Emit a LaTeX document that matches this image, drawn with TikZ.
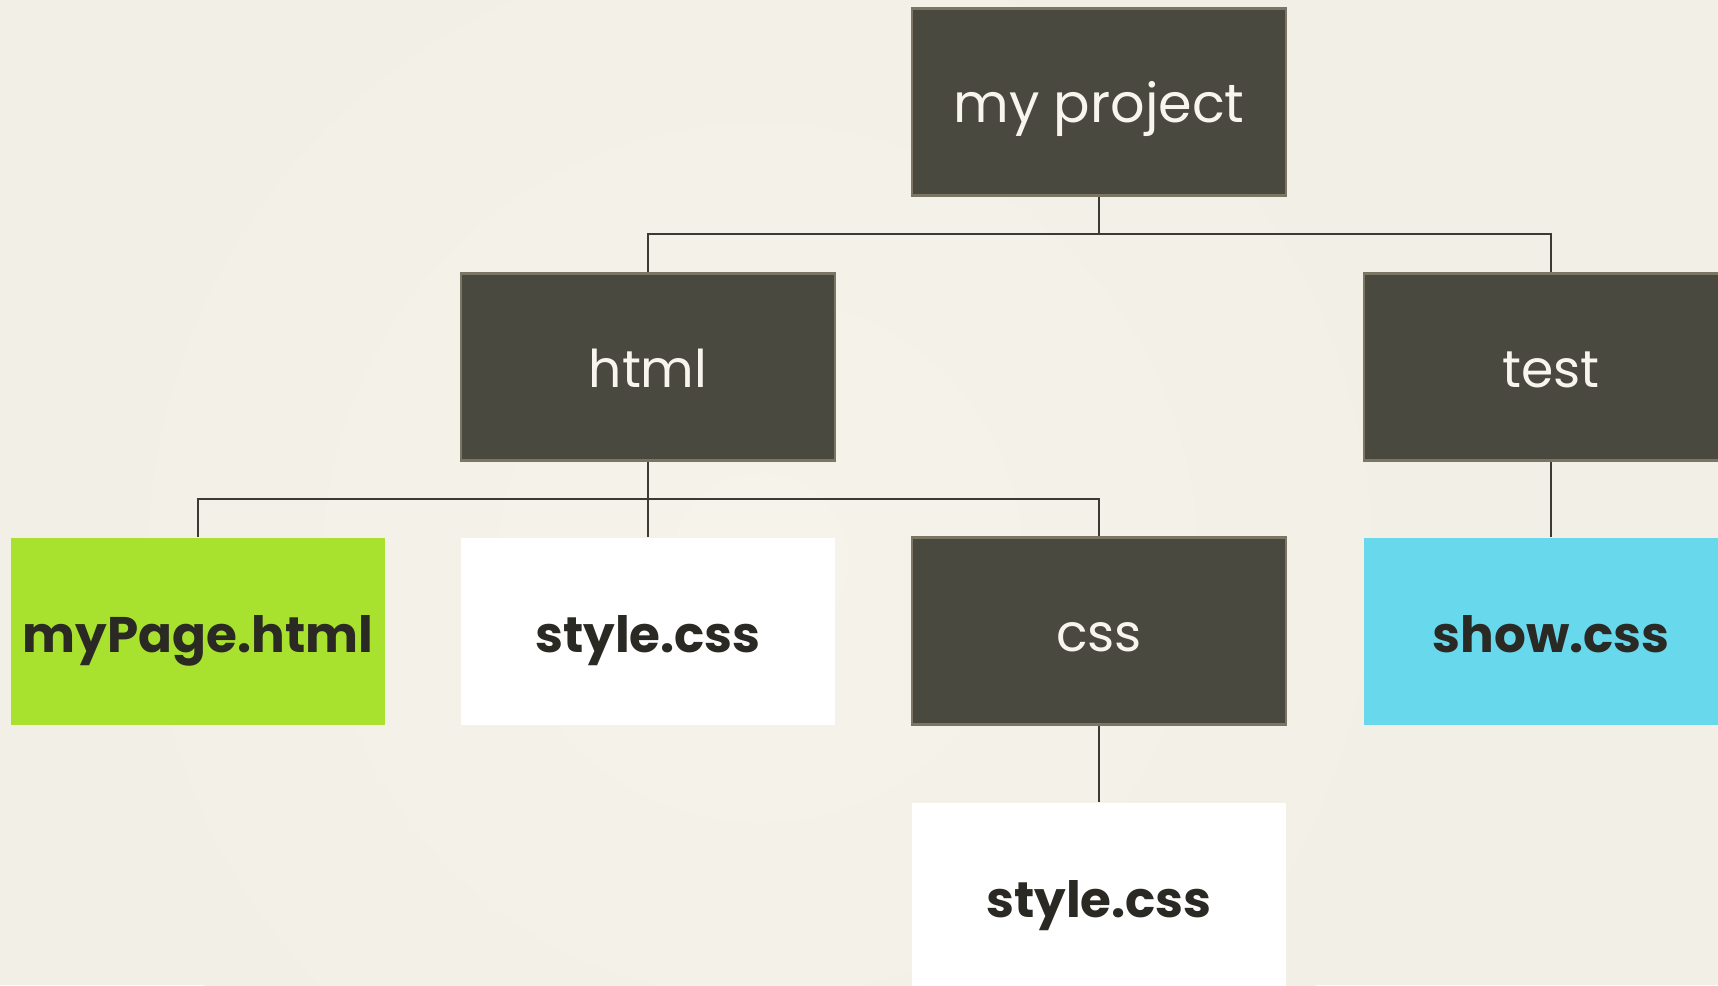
\documentclass[tikz,border=0pt]{standalone}
\usepackage{fontspec}
\setmainfont{Poppins}
\definecolor{bg}{HTML}{F2EFE6}
\definecolor{bgc}{HTML}{F6F3EB}
\definecolor{darkbox}{HTML}{4A4940}
\definecolor{darkedge}{HTML}{7A7663}
\definecolor{linec}{HTML}{3B3A34}
\definecolor{wtext}{HTML}{F7F5EE}
\definecolor{btext}{HTML}{2A2923}
\definecolor{lime}{HTML}{A8E22E}
\definecolor{sky}{HTML}{68D8EC}
\tikzset{
  box/.style={minimum width=374pt, minimum height=187pt, inner sep=0pt, anchor=center},
  dbox/.style={box, fill=darkbox, draw=darkedge, line width=2.5pt, text=wtext,
    font=\fontsize{52}{60}\selectfont, text height=40pt, text depth=0pt},
  fbox/.style={box, text=btext, font=\bfseries\fontsize{50}{58}\selectfont,
    text height=43pt, text depth=0pt},
  conn/.style={draw=linec, line width=2.6pt}
}
\begin{document}
\begin{tikzpicture}[x=1pt,y=-1pt]
\useasboundingbox (0,0) rectangle (1718,985);
\clip (0,0) rectangle (1718,985);
\fill[bg] (0,0) rectangle (1718,985);
\shade[inner color=bgc, outer color=bg] (760,560) circle (700);
\coordinate (bus1) at (0,234);
\coordinate (bus2) at (0,499);
\node[dbox, font=\fontsize{54}{62}\selectfont] (proj) at (1099,102) {my project};
\node[dbox] (html) at (648,367) {html};
\node[dbox] (test) at (1551,367) {test};
\node[fbox, fill=lime] (mypage) at (198,631) {myPage.html};
\node[fbox, fill=white] (style1) at (648,631) {style.css};
\node[dbox] (css) at (1099,631) {css};
\node[fbox, fill=sky] (show) at (1551,631) {show.css};
\node[fbox, fill=white] (style2) at (1099,896) {style.css};
\draw[conn] (proj.south) -- (proj.south |- bus1) -| (html.north);
\draw[conn] (proj.south |- bus1) -| (test.north);
\draw[conn] (html.south) -- (html.south |- bus2) -| (mypage.north);
\draw[conn] (html.south |- bus2) -- (style1.north);
\draw[conn] (html.south |- bus2) -| (css.north);
\draw[conn] (test.south) -- (show.north);
\draw[conn] (css.south) -- (style2.north);
\end{tikzpicture}
\end{document}
